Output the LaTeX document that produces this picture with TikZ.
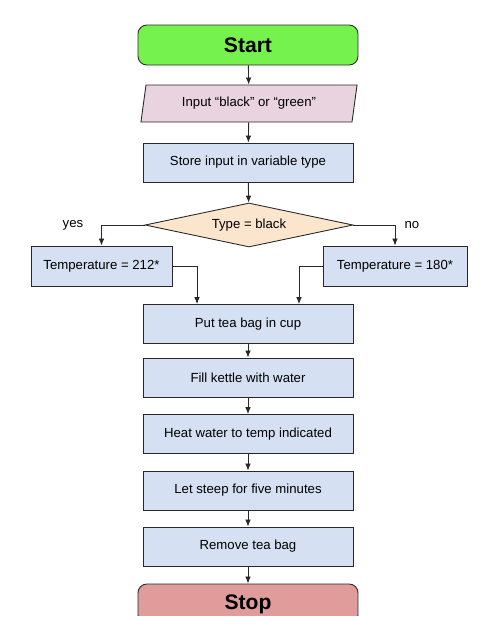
\documentclass[tikz,border=0pt]{standalone}
\usepackage{fontspec}
\setmainfont{Liberation Sans}
\usepackage{tikz}
\usetikzlibrary{arrows.meta, shapes.geometric}
\definecolor{tea_green}{RGB}{118, 242, 78}
\definecolor{tea_pink}{RGB}{232, 211, 222}
\definecolor{tea_blue}{RGB}{213, 225, 242}
\definecolor{tea_peach}{RGB}{252, 229, 205}
\definecolor{tea_red}{RGB}{224, 156, 154}
\definecolor{tea_line}{RGB}{40, 40, 40}

\begin{document}
\begin{tikzpicture}[x=0.02cm, y=-0.02cm, font=\fontsize{7.5}{9}\selectfont,
      blk/.style={draw=tea_line, fill=tea_blue, line width=0.5pt,
                  minimum width=4.2cm, minimum height=0.78cm, inner sep=0pt},
      term/.style={draw=tea_line, line width=0.5pt, rounded corners=5pt,
                   minimum width=4.4cm, minimum height=0.8cm,
                   font=\fontsize{12}{14}\selectfont\bfseries},
      arr/.style={-{Latex[length=4pt, width=3.2pt]}, line width=0.5pt, tea_line}]
      \useasboundingbox (0,0) rectangle (500,630);
      \fill[white] (0,0) rectangle (500,630);
      \clip (0,0) rectangle (500,615);
      \node[term, fill=tea_green] (start) at (248, 45) {Start};
      \node[trapezium, trapezium left angle=75, trapezium right angle=105,
            trapezium stretches=true, draw=tea_line, fill=tea_pink, line width=0.5pt,
            minimum width=4.36cm, minimum height=0.74cm, inner sep=0pt]
        (input) at (249, 103.5) {Input “black” or “green”};
      \node[blk] (store) at (248, 162.5) {Store input in variable type};
      \node[diamond, aspect=4.73, draw=tea_line, fill=tea_peach, line width=0.5pt,
            minimum width=4.16cm, minimum height=0.88cm, inner sep=0pt]
        (type) at (249, 225) {Type = black};
      \node (yes) at (73, 225) {yes};
      \node (no)  at (412, 225) {no};
      \node[blk, minimum width=2.82cm, minimum height=0.8cm] (hot)  at (101.5, 266) {Temperature = 212*};
      \node[blk, minimum width=2.88cm, minimum height=0.8cm] (warm) at (395, 266) {Temperature = 180*};
      \node[blk] (cup)    at (248, 324)   {Put tea bag in cup};
      \node[blk] (kettle) at (248, 377.5) {Fill kettle with water};
      \node[blk] (heat)   at (248, 434)   {Heat water to temp indicated};
      \node[blk] (steep)  at (248, 490.5) {Let steep for five minutes};
      \node[blk] (remove) at (248, 546.5) {Remove tea bag};
      \node[term, fill=tea_red] (stop) at (248, 604) {Stop};
      \draw[arr] (start) -- (input);
      \draw[arr] (input) -- (store);
      \draw[arr] (store) -- (type);
      \draw[arr] (type.west) -| (hot.north);
      \draw[arr] (type.east) -| (warm.north);
      \draw[arr] (hot.east) -| ([xshift=-1.02cm]cup.north);
      \draw[arr] (warm.west) -| ([xshift=1.02cm]cup.north);
      \draw[arr] (cup) -- (kettle);
      \draw[arr] (kettle) -- (heat);
      \draw[arr] (heat) -- (steep);
      \draw[arr] (steep) -- (remove);
      \draw[arr] (remove) -- (stop);
    \end{tikzpicture}
\end{document}
